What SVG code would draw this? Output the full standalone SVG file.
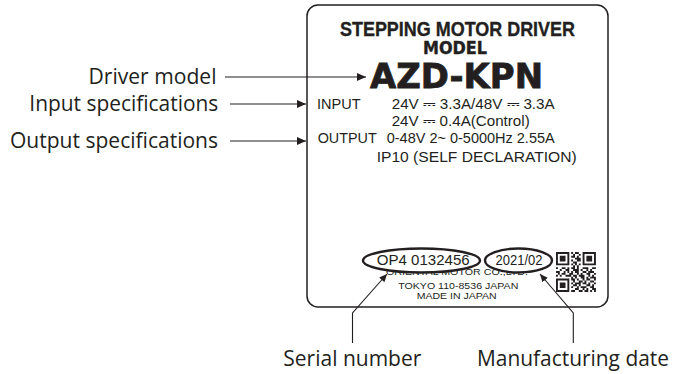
<svg xmlns="http://www.w3.org/2000/svg" width="673" height="374" viewBox="0 0 673 374">
<defs>
<marker id="ah" viewBox="0 0 9 8" refX="9" refY="4" markerWidth="9" markerHeight="8" markerUnits="userSpaceOnUse" orient="auto"><path d="M0,0L9,4L0,8z" fill="#231f20"/></marker>
<marker id="ahs" viewBox="0 0 9 8" refX="9" refY="4" markerWidth="8" markerHeight="7" markerUnits="userSpaceOnUse" orient="auto"><path d="M0,0L9,4L0,8z" fill="#231f20"/></marker>
</defs>
<style>
.cap{font-family:"Open Sans","Noto Sans",sans-serif;font-size:21.5px;fill:#231f20}
.pl{font-family:"Liberation Sans","DejaVu Sans",Arial,sans-serif;font-size:14.5px;fill:#231f20}
.sm{font-family:"Liberation Sans",Arial,sans-serif;font-size:9.8px;fill:#231f20}
.con{stroke:#231f20;stroke-width:1.1;fill:none}
.ell{fill:#fff;stroke:#231f20;stroke-width:2.4}
</style>
<g id="label-plate">
<rect x="307" y="5" width="301" height="302" rx="11" fill="#fff" stroke="#231f20" stroke-width="1.5"/>
<text x="340" y="36" font-family="'Liberation Sans Narrow','Liberation Sans',sans-serif" font-weight="bold" font-size="20" fill="#231f20" stroke="#231f20" stroke-width="0.35" textLength="235" lengthAdjust="spacingAndGlyphs">STEPPING MOTOR DRIVER</text>
<text x="423" y="54.3" font-family="'DejaVu Sans',sans-serif" font-weight="bold" font-size="17" fill="#231f20" stroke="#231f20" stroke-width="0.4" textLength="64" lengthAdjust="spacingAndGlyphs">MODEL</text>
<text x="370" y="88.3" font-family="'DejaVu Sans',sans-serif" font-weight="bold" font-size="33" fill="#231f20" stroke="#231f20" stroke-width="0.8" textLength="173" lengthAdjust="spacingAndGlyphs">AZD-KPN</text>
<text class="pl" x="317" y="109">INPUT</text>
<text class="pl" x="391.7" y="109" textLength="163" lengthAdjust="spacingAndGlyphs">24V ⎓ 3.3A/48V ⎓ 3.3A</text>
<text class="pl" x="391.7" y="126" textLength="138" lengthAdjust="spacingAndGlyphs">24V ⎓ 0.4A(Control)</text>
<text class="pl" x="317.7" y="143.3" textLength="59" lengthAdjust="spacingAndGlyphs">OUTPUT</text>
<text class="pl" x="386.7" y="143.3" textLength="168" lengthAdjust="spacingAndGlyphs">0-48V 2~ 0-5000Hz 2.55A</text>
<text class="pl" x="376.7" y="161.5" textLength="200" lengthAdjust="spacingAndGlyphs">IP10 (SELF DECLARATION)</text>
<text class="sm" x="386" y="275" textLength="142" lengthAdjust="spacingAndGlyphs">ORIENTAL MOTOR CO.,LTD.</text>
<text class="sm" x="398.3" y="289.3" textLength="120" lengthAdjust="spacingAndGlyphs">TOKYO 110-8536 JAPAN</text>
<text class="sm" x="416.7" y="299" textLength="80" lengthAdjust="spacingAndGlyphs">MADE IN JAPAN</text>
<ellipse class="ell" cx="421.5" cy="260.5" rx="58.5" ry="12"/>
<ellipse class="ell" cx="518.5" cy="260.5" rx="33.5" ry="12"/>
<text class="pl" x="376.7" y="265" textLength="93" lengthAdjust="spacingAndGlyphs">OP4 0132456</text>
<text class="pl" x="495.5" y="265" textLength="47" lengthAdjust="spacingAndGlyphs">2021/02</text>
<g id="qr" transform="translate(556 252) scale(1.9)" fill="#231f20">
<path fill-rule="evenodd" d="M0 0h7v7h-7z M1 1v5h5v-5z M2 2h3v3h-3z M14 0h7v7h-7z M15 1v5h5v-5z M16 2h3v3h-3z M0 14h7v7h-7z M1 15v5h5v-5z M2 16h3v3h-3z"/>
<path d="M8 0h1v1h-1z M10 0h2v1h-2z M9 1h1v1h-1z M12 1h1v1h-1z M8 2h2v1h-2z M11 2h1v1h-1z M10 3h3v1h-3z M8 4h1v1h-1z M11 4h2v1h-2z M9 5h2v1h-2z M8 6h1v1h-1z M10 6h1v1h-1z M12 6h1v1h-1z M9 7h1v1h-1z M11 7h1v1h-1z M0 8h1v1h-1z M3 8h2v1h-2z M6 8h1v1h-1z M8 8h2v1h-2z M11 8h1v1h-1z M14 8h3v1h-3z M19 8h2v1h-2z M2 9h1v1h-1z M5 9h2v1h-2z M9 9h3v1h-3z M13 9h1v1h-1z M16 9h1v1h-1z M18 9h1v1h-1z M0 10h2v1h-2z M4 10h1v1h-1z M6 10h1v1h-1z M8 10h1v1h-1z M10 10h2v1h-2z M14 10h2v1h-2z M17 10h3v1h-3z M1 11h1v1h-1z M3 11h2v1h-2z M7 11h2v1h-2z M11 11h1v1h-1z M13 11h1v1h-1z M16 11h2v1h-2z M20 11h1v1h-1z M0 12h1v1h-1z M2 12h1v1h-1z M5 12h3v1h-3z M9 12h2v1h-2z M12 12h3v1h-3z M17 12h1v1h-1z M19 12h1v1h-1z M8 13h1v1h-1z M10 13h1v1h-1z M13 13h2v1h-2z M16 13h1v1h-1z M18 13h3v1h-3z M8 14h2v1h-2z M11 14h1v1h-1z M14 14h1v1h-1z M16 14h2v1h-2z M20 14h1v1h-1z M9 15h1v1h-1z M12 15h2v1h-2z M15 15h1v1h-1z M18 15h2v1h-2z M8 16h1v1h-1z M10 16h3v1h-3z M14 16h2v1h-2z M17 16h1v1h-1z M20 16h1v1h-1z M9 17h2v1h-2z M12 17h1v1h-1z M16 17h2v1h-2z M19 17h1v1h-1z M8 18h1v1h-1z M11 18h1v1h-1z M13 18h3v1h-3z M18 18h2v1h-2z M10 19h2v1h-2z M14 19h1v1h-1z M16 19h1v1h-1z M19 19h2v1h-2z M8 20h2v1h-2z M12 20h2v1h-2z M15 20h2v1h-2z M18 20h1v1h-1z M20 20h1v1h-1z"/>
</g>
</g>
<g id="connectors">
<line class="con" x1="225" y1="77" x2="366" y2="77" marker-end="url(#ah)"/>
<line class="con" x1="230" y1="104" x2="306" y2="104" marker-end="url(#ah)"/>
<line class="con" x1="230" y1="141" x2="306" y2="141" marker-end="url(#ah)"/>
<path class="con" d="M352.5,343V313L387,274" marker-end="url(#ahs)"/>
<path class="con" d="M573.3,343V313L540,274" marker-end="url(#ahs)"/>
</g>
<g id="lbl-driver-model"><text class="cap" x="88.5" y="84" textLength="128" lengthAdjust="spacingAndGlyphs">Driver model</text></g>
<g id="lbl-input"><text class="cap" x="29.3" y="111" textLength="189" lengthAdjust="spacingAndGlyphs">Input specifications</text></g>
<g id="lbl-output"><text class="cap" x="10" y="148" textLength="208" lengthAdjust="spacingAndGlyphs">Output specifications</text></g>
<g id="lbl-serial"><text class="cap" x="283.3" y="366" textLength="138" lengthAdjust="spacingAndGlyphs">Serial number</text></g>
<g id="lbl-date"><text class="cap" x="477" y="366" textLength="192" lengthAdjust="spacingAndGlyphs">Manufacturing date</text></g>
</svg>
